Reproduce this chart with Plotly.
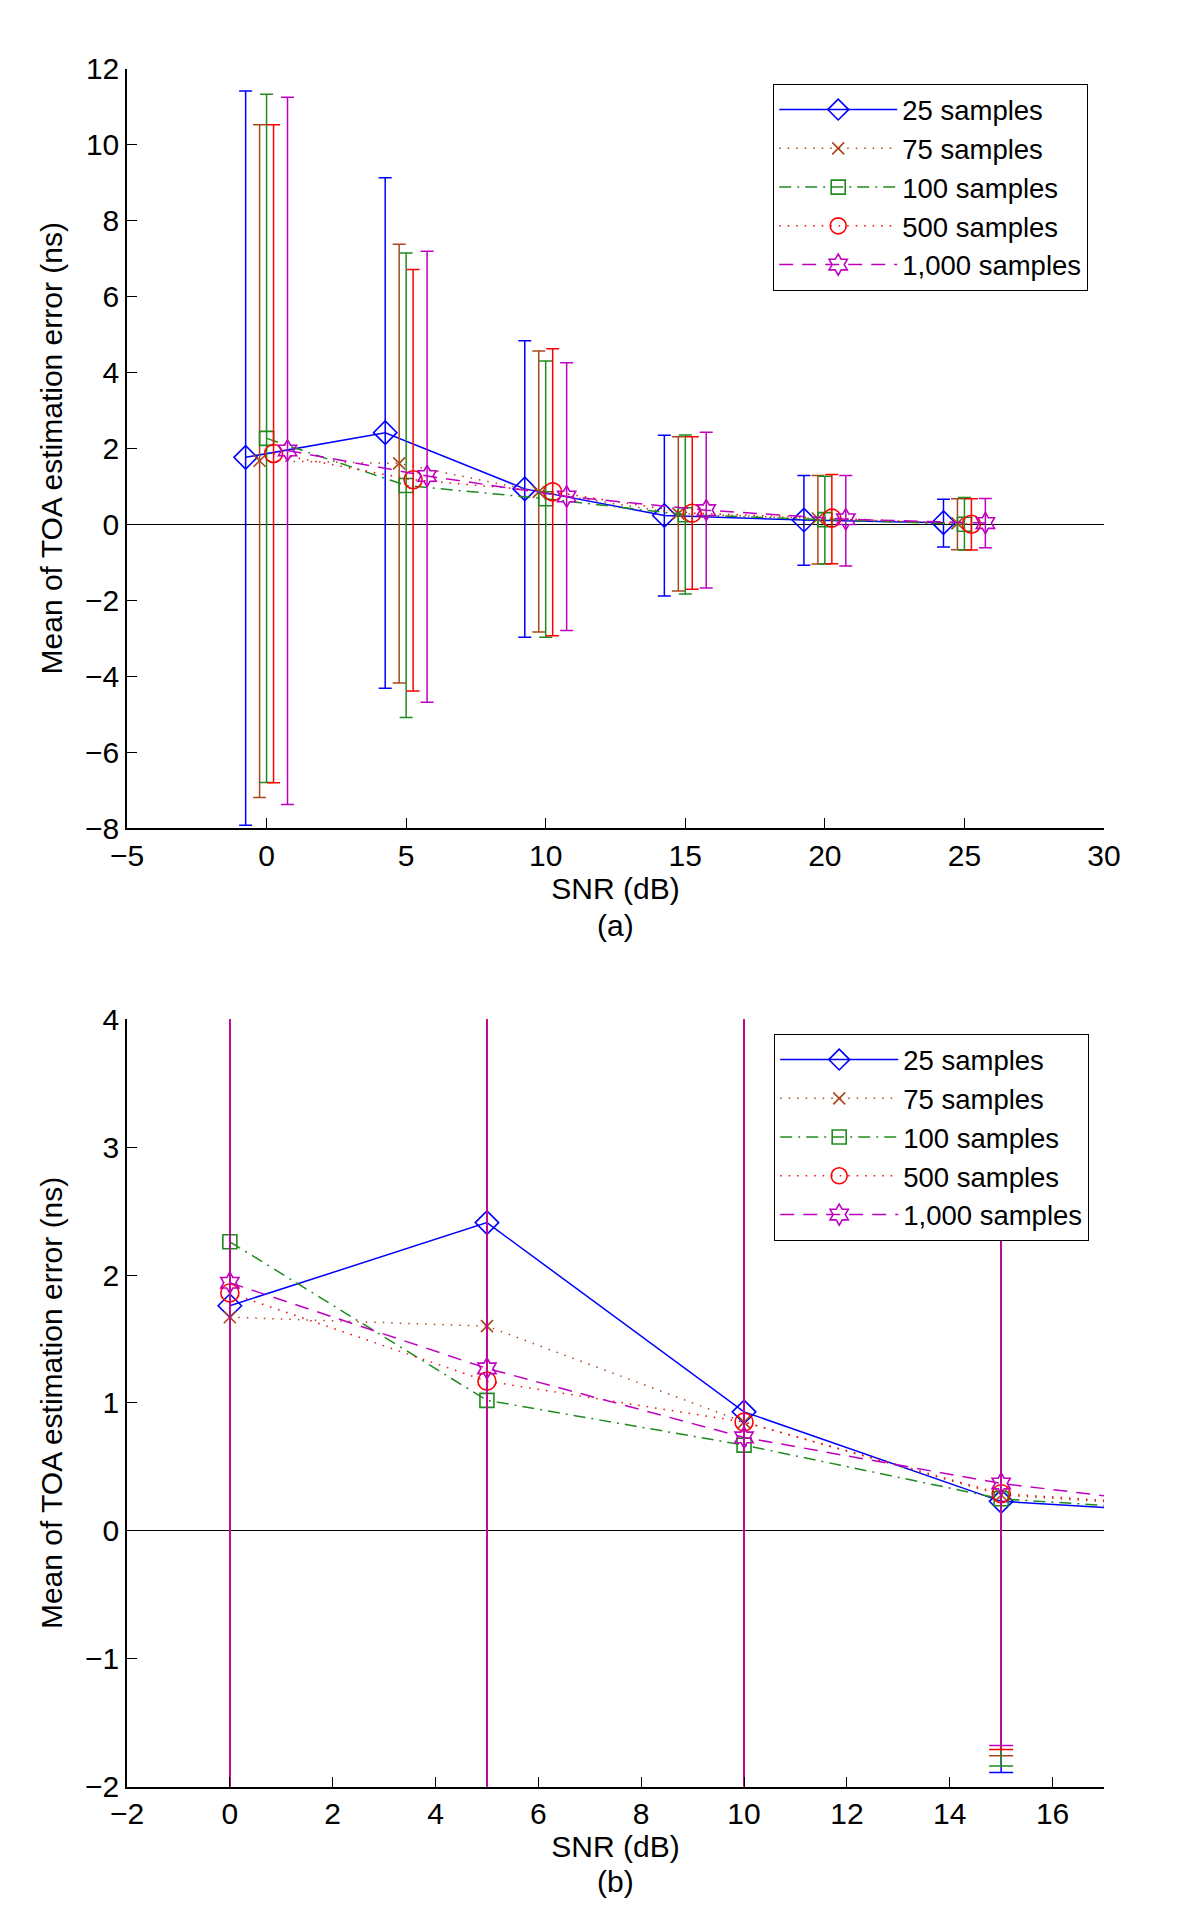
import plotly.graph_objects as go

# ---------------- data ----------------
SNR_DB = [0, 5, 10, 15, 20, 25]
SERIES_NAMES = ["25 samples", "75 samples", "100 samples", "500 samples", "1,000 samples"]

# horizontal offsets (dB) used in panel (a) to separate the error bars
OFFSET_A = [-0.75, -0.25, 0.0, 0.25, 0.75]

MEAN_25 = [1.76, 2.41, 0.93, 0.23, 0.11, 0.04]
MEAN_75 = [1.67, 1.60, 0.85, 0.28, 0.15, 0.02]
MEAN_100 = [2.26, 1.02, 0.67, 0.25, 0.12, 0.00]
MEAN_500 = [1.86, 1.17, 0.85, 0.29, 0.16, 0.00]
MEAN_1000 = [1.94, 1.27, 0.73, 0.37, 0.13, 0.03]

UPPER_25 = [11.41, 9.12, 4.83, 2.34, 1.28, 0.66]
UPPER_75 = [10.52, 7.37, 4.56, 2.30, 1.28, 0.67]
UPPER_100 = [11.32, 7.14, 4.30, 2.35, 1.26, 0.70]
UPPER_500 = [10.52, 6.71, 4.62, 2.30, 1.31, 0.67]
UPPER_1000 = [11.24, 7.19, 4.25, 2.42, 1.28, 0.68]

LOWER_25 = [-7.93, -4.32, -2.98, -1.89, -1.08, -0.60]
LOWER_75 = [-7.20, -4.18, -2.84, -1.76, -1.05, -0.67]
LOWER_100 = [-6.80, -5.09, -2.98, -1.84, -1.05, -0.68]
LOWER_500 = [-6.81, -4.39, -2.94, -1.71, -1.04, -0.68]
LOWER_1000 = [-7.38, -4.69, -2.80, -1.68, -1.10, -0.62]

MEANS = [MEAN_25, MEAN_75, MEAN_100, MEAN_500, MEAN_1000]
UPPERS = [UPPER_25, UPPER_75, UPPER_100, UPPER_500, UPPER_1000]
LOWERS = [LOWER_25, LOWER_75, LOWER_100, LOWER_500, LOWER_1000]

X_TICKS_A = [-5, 0, 5, 10, 15, 20, 25, 30]
Y_TICKS_A = [-8, -6, -4, -2, 0, 2, 4, 6, 8, 10, 12]
X_TICKS_B = [-2, 0, 2, 4, 6, 8, 10, 12, 14, 16]
Y_TICKS_B = [-2, -1, 0, 1, 2, 3, 4]

# ---------------- styles ----------------
COLORS = ["#0000ff", "#a8481c", "#1f8a1f", "#ff0000", "#c000c0"]
DASHES = ["solid", "1.5px,7px", "12px,6px,2px,6px", "1.5px,7px", "14px,9px"]
SYMBOLS = ["diamond-open", "x-thin-open", "square-open", "circle-open", "hexagram-open"]
SIZES = [18, 12, 14, 18, 16]

FONT = "Liberation Sans, Arial, Helvetica, sans-serif"
PAGE_PAD = 8                      # default body margin of the html page
W, H = 1200 - 2 * PAGE_PAD, 1927 - 2 * PAGE_PAD


def px(x):
    return (x - PAGE_PAD) / W


def py(y):
    return 1 - (y - PAGE_PAD) / H


fig = go.Figure()

for panel, (xa, ya, leg, capw) in enumerate([("x", "y", "legend", 6.5), ("x2", "y2", "legend2", 12)]):
    for i in range(5):
        if panel == 0:
            xs = [s + OFFSET_A[i] for s in SNR_DB]
        else:
            xs = list(SNR_DB)
        m = MEANS[i]
        up = [u - v for u, v in zip(UPPERS[i], m)]
        dn = [v - l for l, v in zip(LOWERS[i], m)]
        fig.add_trace(go.Scatter(
            x=xs, y=m, name=SERIES_NAMES[i],
            mode="lines+markers",
            xaxis=xa, yaxis=ya, legend=leg,
            line=dict(color=COLORS[i], width=1.5, dash=DASHES[i]),
            marker=dict(symbol=SYMBOLS[i], size=SIZES[i], color=COLORS[i],
                        line=dict(color=COLORS[i], width=1.6)),
            error_y=dict(type="data", symmetric=False, array=up, arrayminus=dn,
                         color=COLORS[i], thickness=1.5, width=capw),
        ))

axis_common = dict(
    showline=True, linecolor="black", linewidth=1.5,
    ticks="inside", ticklen=10, tickwidth=1.2, tickcolor="black",
    showgrid=False, mirror=False, automargin=False,
    tickfont=dict(family=FONT, size=30, color="black"),
)

xdom = [px(127), px(1104)]
ydom_a = [py(828), py(68.5)]
ydom_b = [py(1786.5), py(1019.3)]

title_font = dict(family=FONT, size=30, color="black")
legend_font = dict(family=FONT, size=27.5, color="black")

fig.update_layout(
    width=W, height=H,
    margin=dict(l=0, r=0, t=0, b=0),
    paper_bgcolor="white", plot_bgcolor="white",
    font=dict(family=FONT, color="black"),
    xaxis=dict(axis_common, domain=xdom, anchor="y", range=[-5, 30],
               tickvals=X_TICKS_A, zeroline=False,
               title=dict(text="SNR (dB)", font=title_font, standoff=6)),
    yaxis=dict(axis_common, domain=ydom_a, anchor="x", range=[-8, 12],
               tickvals=Y_TICKS_A, zeroline=True, zerolinecolor="black", zerolinewidth=1.3,
               title=dict(text="Mean of TOA estimation error (ns)", font=title_font, standoff=14)),
    xaxis2=dict(axis_common, domain=xdom, anchor="y2", range=[-2, 17],
                tickvals=X_TICKS_B, zeroline=False,
                title=dict(text="SNR (dB)", font=title_font, standoff=6)),
    yaxis2=dict(axis_common, domain=ydom_b, anchor="x2", range=[-2, 4],
                tickvals=Y_TICKS_B, zeroline=True, zerolinecolor="black", zerolinewidth=1.3,
                title=dict(text="Mean of TOA estimation error (ns)", font=title_font, standoff=14)),
    legend=dict(x=px(1088), y=py(84), xanchor="right", yanchor="top",
                bgcolor="white", bordercolor="black", borderwidth=1.2,
                font=legend_font, itemwidth=118, tracegroupgap=0),
    legend2=dict(x=px(1089), y=py(1034), xanchor="right", yanchor="top",
                 bgcolor="white", bordercolor="black", borderwidth=1.2,
                 font=legend_font, itemwidth=118, tracegroupgap=0),
    showlegend=True,
    annotations=[
        dict(text="(a)", x=px(615), y=py(925), xref="paper", yref="paper",
             showarrow=False, font=title_font, xanchor="center", yanchor="middle"),
        dict(text="(b)", x=px(615), y=py(1881), xref="paper", yref="paper",
             showarrow=False, font=title_font, xanchor="center", yanchor="middle"),
    ],
)

fig.write_html("out.html")
